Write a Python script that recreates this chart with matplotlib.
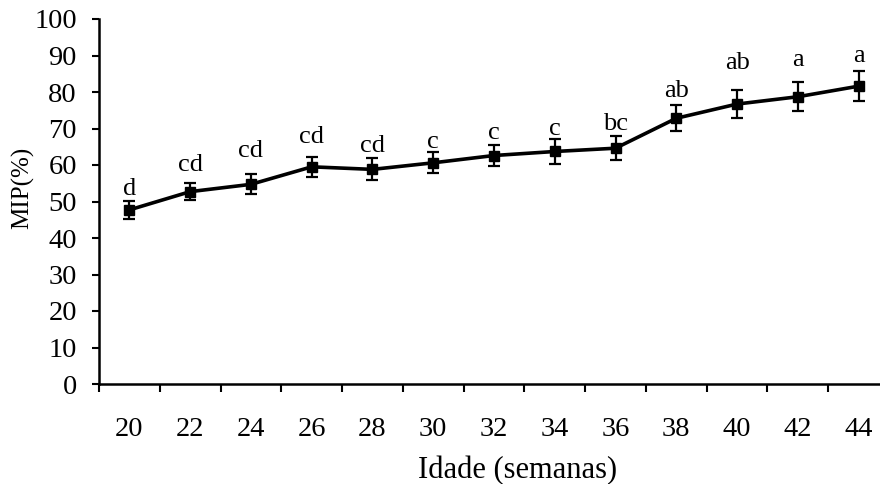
import matplotlib.pyplot as plt
import numpy as np

# dados: idade (semanas), MIP (%) e erro padrao
idade = ["20", "22", "24", "26", "28", "30", "32", "34", "36", "38", "40", "42", "44"]
mip = [47.7, 52.7, 54.7, 59.5, 58.8, 60.6, 62.6, 63.7, 64.6, 72.8, 76.7, 78.7, 81.6]
erro = [2.5, 2.4, 2.7, 2.8, 3.0, 2.9, 2.9, 3.4, 3.3, 3.6, 3.8, 4.0, 4.1]
letras = ["d", "cd", "cd", "cd", "cd", "c", "c", "c", "bc", "ab", "ab", "a", "a"]

# altura das letras (linha de base, em % do eixo y)
letras_y = [51.8, 58.4, 62.3, 66.0, 63.5, 64.7, 67.1, 68.2, 69.6, 78.5, 86.2, 87.1, 88.3]

plt.rcParams["font.family"] = ["Liberation Serif", "DejaVu Serif"]

fig = plt.figure(figsize=(8.8, 4.84), dpi=100)
# eixo mais largo que a figura, como no original (cortado a direita)
ax = fig.add_axes([99 / 880, 1 - 384 / 484, 790 / 880, 365 / 484])

x = np.arange(len(idade))
ax.errorbar(x, mip, yerr=erro, color="black", linewidth=2.6,
            marker="s", markersize=6.5, ecolor="black", elinewidth=1.6,
            capsize=4.5, capthick=1.6, clip_on=False)

for xi, yl, txt in zip(x, letras_y, letras):
    ax.text(xi, yl, txt, ha="center", va="baseline", fontsize=19)

ax.set_xlim(-0.5, len(idade) - 0.5)
ax.set_ylim(0, 100)
ax.set_yticks(np.arange(0, 101, 10))

# marcas entre categorias, rotulos no centro
ax.set_xticks(np.arange(-0.5, len(idade), 1))
ax.set_xticklabels([])
ax.set_xticks(x, minor=True)
ax.set_xticklabels(idade, minor=True)
ax.tick_params(axis="x", which="major", direction="out", length=5.5, width=1.5)
ax.tick_params(axis="x", which="minor", length=0, pad=24, labelsize=20.5)
ax.tick_params(axis="y", direction="out", length=5, width=1.5, pad=11, labelsize=20.5)

for side in ["top", "right"]:
    ax.spines[side].set_visible(False)
for side in ["left", "bottom"]:
    ax.spines[side].set_linewidth(1.8)

ax.set_xlabel("Idade (semanas)", fontsize=22)
ax.xaxis.set_label_coords(0.53, -0.198)
ax.set_ylabel("MIP(%)", fontsize=18)
ax.yaxis.set_label_coords(-0.082, 0.537)

fig.savefig("out.png", dpi=100)
